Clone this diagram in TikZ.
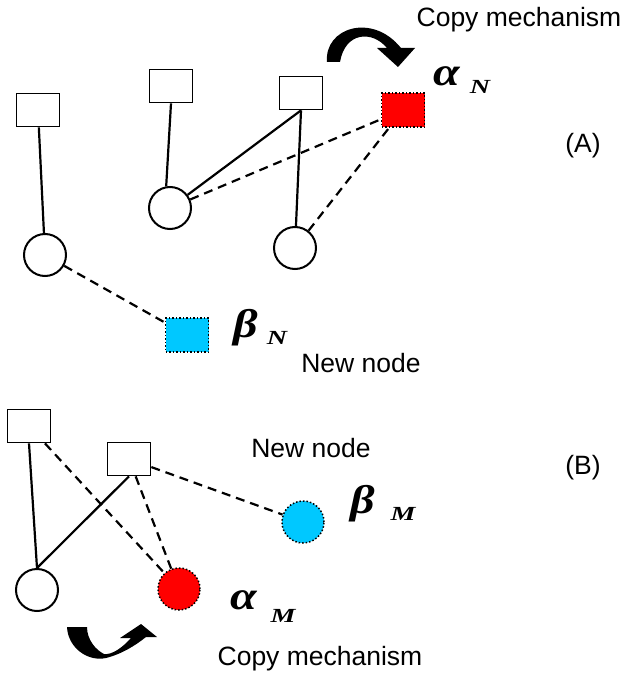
\documentclass[tikz,border=0pt]{standalone}
\usepackage{fontspec}
\usepackage{graphicx}
\setmainfont{Liberation Sans}
\newfontfamily\grk{Liberation Serif}
\newcommand{\gwide}[1]{\scalebox{1.2}[1]{#1}}
\newcommand{\swide}[1]{\scalebox{1.4}[1]{#1}}
\begin{document}
\begin{tikzpicture}[x=1pt,y=-1pt,
  sq/.style={draw=black, line width=1.7pt, fill=white, minimum width=43pt, minimum height=33pt, inner sep=0pt},
  cir/.style={draw=black, line width=2pt, fill=white, circle, minimum size=42pt, inner sep=0pt},
  sqnew/.style={draw=black, dotted, line width=1.5pt, minimum width=43pt, minimum height=34pt, inner sep=0pt},
  cirnew/.style={draw=black, dotted, line width=1.5pt, circle, minimum size=42pt, inner sep=0pt},
  solidline/.style={line width=2.2pt},
  dashline/.style={line width=2.2pt, dash pattern=on 9pt off 6pt},
  lbl/.style={inner sep=0pt, font=\fontsize{26.5}{30}\selectfont},
  gk/.style={inner sep=0pt, font=\grk\bfseries\itshape\fontsize{40}{46}\selectfont},
  gsub/.style={inner sep=0pt, font=\grk\bfseries\itshape\fontsize{20}{24}\selectfont}
]
\definecolor{redfill}{RGB}{255,0,0}
\definecolor{bluefill}{RGB}{0,200,255}
\useasboundingbox (0,0) rectangle (623,677);

% ---------------- Part A ----------------
\node[sq] (S1) at (38,110) {};
\node[sq] (S2) at (171,86) {};
\node[sq] (S3) at (301,93) {};
\node[sqnew, fill=redfill] (R1) at (403,110) {};
\node[cir] (C1) at (45,255) {};
\node[cir] (C2) at (170,208) {};
\node[cir] (C3) at (295,248) {};
\node[sqnew, fill=bluefill] (B1) at (187,335) {};

\draw[solidline] (S1) -- (C1);
\draw[solidline] (S2.south) -- (C2.100);
\draw[solidline] (S3.south) -- (C2);
\draw[solidline] (S3.south) -- (C3);
\draw[dashline] (C2) -- (R1);
\draw[dashline] (C3) -- (R1);
\draw[dashline] (C1) -- (B1);

\node[gk] (aN) at (447,76) {\gwide{α}};
\node[gsub] (aNs) at (480,87) {\swide{N}};
\node[gk] (bN) at (246,328) {\gwide{β}};
\node[gsub] (bNs) at (277,338) {\swide{N}};

\node[lbl, anchor=base] (copyA) at (519,27) {Copy mechanism};
\node[lbl, anchor=base] (newA) at (361,372) {New node};
\node[lbl, anchor=base] (labA) at (583,152) {(A)};

\fill (327,62) .. controls (324,28) and (372,12) .. (401,48) -- (415,48) -- (398,67) -- (377,48) -- (387,48) .. controls (372,30) and (345,32) .. (340,62) -- cycle;

% ---------------- Part B ----------------
\node[sq] (T1) at (29,426) {};
\node[sq] (T2) at (129,459) {};
\node[cir] (W1) at (37,590) {};
\node[cirnew, fill=redfill] (R2) at (179,589) {};
\node[cirnew, fill=bluefill] (B2) at (303,522) {};

\draw[solidline] (T1.south) -- (W1.north);
\draw[solidline] (T2.south) -- (W1.north);
\draw[dashline] (T1) -- (R2);
\draw[dashline] (T2) -- (R2);
\draw[dashline] (T2) -- (B2);

\node[gk] (aM) at (244,600) {\gwide{α}};
\node[gsub] (aMs) at (283,616) {\swide{M}};
\node[gk] (bM) at (363,504) {\gwide{β}};
\node[gsub] (bMs) at (403,514) {\swide{M}};

\node[lbl, anchor=base] (newB) at (311,457) {New node};
\node[lbl, anchor=base] (copyB) at (320,665) {Copy mechanism};
\node[lbl, anchor=base] (labB) at (583,474) {(B)};

\fill (67,627) .. controls (68,648) and (88,662) .. (106,658) .. controls (122,654) and (136,645) .. (146,637) -- (157,637) -- (141,624) -- (120,638) -- (131,638) .. controls (122,648) and (112,655) .. (104,654) .. controls (96,650) and (87,640) .. (87,627) -- cycle;
\end{tikzpicture}
\end{document}
